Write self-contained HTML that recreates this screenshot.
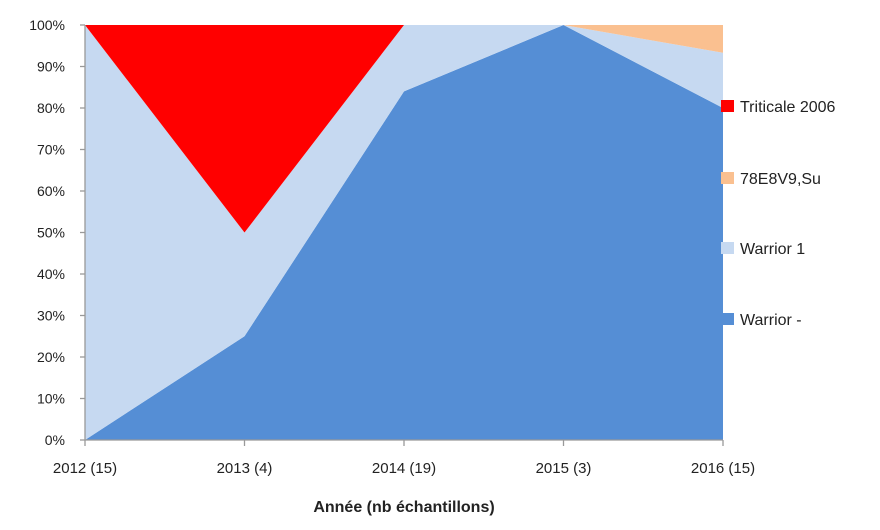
<!DOCTYPE html>
<html><head><meta charset="utf-8"><style>
body{margin:0;background:#fff;font-family:"Liberation Sans",sans-serif;}
svg text{font-family:"Liberation Sans",sans-serif;fill:#222;}
</style></head><body>
<svg width="880" height="525">
<g id="plot"></g>
<g id="axes"></g>
<g id="legend"></g>
<text x="404" y="512" text-anchor="middle" font-size="16" font-weight="bold">Année (nb échantillons)</text>
</svg>
<script>
const categories=["2012 (15)","2013 (4)","2014 (19)","2015 (3)","2016 (15)"];
const warriorMinus=[0,25,84,100,80];
const warrior1=[100,25,16,0,13.3];
const e78=[0,0,0,0,6.7];
const triticale=[0,50,0,0,0];
const yTicks=[0,10,20,30,40,50,60,70,80,90,100];
const seriesNames=["Warrior -","Warrior 1","78E8V9,Su","Triticale 2006"];
const seriesColors=["#558ed5","#c6d9f1","#fac090","#ff0000"];
const ns="http://www.w3.org/2000/svg";
const X0=85,X1=723,Y0=440,Y1=25;
const x=i=>X0+(X1-X0)*i/(categories.length-1);
const y=v=>Y0-(Y0-Y1)*v/100;
const plot=document.getElementById('plot'),axes=document.getElementById('axes'),legend=document.getElementById('legend');
const series=[warriorMinus,warrior1,e78,triticale];
let base=categories.map(()=>0);
series.forEach((s,k)=>{
  const top=base.map((b,i)=>b+s[i]);
  let d=top.map((v,i)=>(i?'L':'M')+x(i)+','+y(v)).join(' ');
  for(let i=categories.length-1;i>=0;i--)d+=' L'+x(i)+','+y(base[i]);
  const p=document.createElementNS(ns,'path');
  p.setAttribute('d',d+' Z');p.setAttribute('fill',seriesColors[k]);
  
  
  plot.appendChild(p);
  base=top;
});
function line(x1,y1,x2,y2,name){const l=document.createElementNS(ns,'line');
l.setAttribute('x1',x1);l.setAttribute('y1',y1);l.setAttribute('x2',x2);l.setAttribute('y2',y2);
l.setAttribute('stroke','#999');l.setAttribute('stroke-width','1.3');


axes.appendChild(l);}
line(X0,Y1,X0,Y0,'y-axis-line');line(X0,Y0,X1,Y0,'x-axis-line');
yTicks.forEach(v=>{line(X0-5,y(v),X0,y(v),'y-tick');
const t=document.createElementNS(ns,'text');t.setAttribute('x',X0-20);t.setAttribute('y',y(v)+5);
t.setAttribute('text-anchor','end');t.setAttribute('font-size','14');t.textContent=v+'%';


axes.appendChild(t);});
categories.forEach((c,i)=>{line(x(i),Y0,x(i),Y0+6,'x-tick');
const t=document.createElementNS(ns,'text');t.setAttribute('x',x(i));t.setAttribute('y',Y0+33);
t.setAttribute('text-anchor','middle');t.setAttribute('font-size','15');t.textContent=c;


axes.appendChild(t);});
const legendOrder=[3,2,1,0],legendY=[106,178,248,319];
legendOrder.forEach((k,j)=>{
const g=document.createElementNS(ns,'g');


const r=document.createElementNS(ns,'rect');r.setAttribute('x',721);r.setAttribute('y',legendY[j]-6);
r.setAttribute('width',13);r.setAttribute('height',12);r.setAttribute('fill',seriesColors[k]);
const t=document.createElementNS(ns,'text');t.setAttribute('x',740);t.setAttribute('y',legendY[j]+6);
t.setAttribute('font-size','16');t.textContent=seriesNames[k];
g.appendChild(r);g.appendChild(t);legend.appendChild(g);});
</script>
</body></html>
